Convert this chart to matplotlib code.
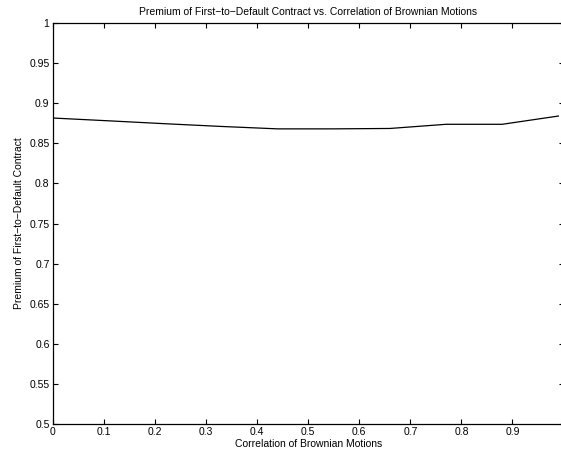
import matplotlib
matplotlib.use("Agg")
import matplotlib.pyplot as plt

plt.rcParams['font.family'] = ['Liberation Sans', 'DejaVu Sans']

correlation = [0.0, 0.11, 0.22, 0.33, 0.44, 0.55, 0.66, 0.77, 0.88, 0.99]
premium = [0.8815, 0.878, 0.8744, 0.871, 0.868, 0.868, 0.8685, 0.8737, 0.8737, 0.884]
xticks = [0, 0.1, 0.2, 0.3, 0.4, 0.5, 0.6, 0.7, 0.8, 0.9]
xticklabels = ['0', '0.1', '0.2', '0.3', '0.4', '0.5', '0.6', '0.7', '0.8', '0.9']
yticks = [0.5, 0.55, 0.6, 0.65, 0.7, 0.75, 0.8, 0.85, 0.9, 0.95, 1.0]
yticklabels = ['0.5', '0.55', '0.6', '0.65', '0.7', '0.75', '0.8', '0.85', '0.9', '0.95', '1']

W, H = 561, 459
fig = plt.figure(figsize=(W / 100, H / 100), dpi=100)
left, right, top, bottom = 53, 563.5, 23, 424
ax = fig.add_axes([left / W, 1 - bottom / H, (right - left) / W, (bottom - top) / H])

ax.plot(correlation, premium, color='black', linewidth=0.9)
ax.set_xlim(0, 1)
ax.set_ylim(0.5, 1)
ax.set_xticks(xticks)
ax.set_xticklabels(xticklabels)
ax.set_yticks(yticks)
ax.set_yticklabels(yticklabels)
ax.tick_params(direction='in', length=3.5, width=0.8, labelsize=7.5,
               top=True, right=True, pad=2.5)
for s in ax.spines.values():
    s.set_linewidth(0.9)

ax.set_title('Premium of First\u2212to\u2212Default Contract vs. Correlation of Brownian Motions',
             fontsize=7.5, pad=6)
ax.set_xlabel('Correlation of Brownian Motions', fontsize=7.5, labelpad=1)
ax.set_ylabel('Premium of First\u2212to\u2212Default Contract', fontsize=7.5, labelpad=4)

fig.savefig('out.png', dpi=100)
